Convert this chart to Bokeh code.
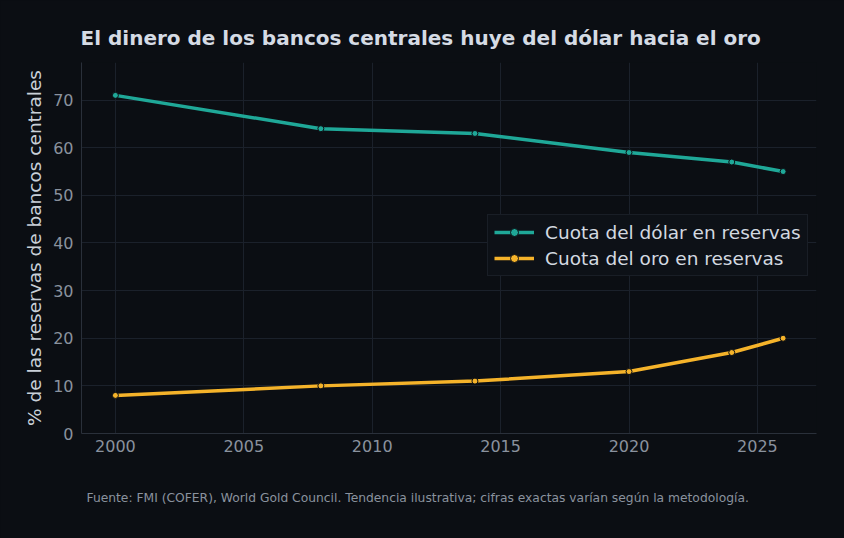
from bokeh.plotting import figure
from bokeh.models import Legend, LegendItem, Title, FixedTicker, Range1d
from bokeh.embed import file_html
from bokeh.resources import INLINE

years = [2000, 2008, 2014, 2020, 2024, 2026]
dollar_share = [71, 64, 63, 59, 57, 55]
gold_share = [8, 10, 11, 13, 17, 20]
x_ticks = [2000, 2005, 2010, 2015, 2020, 2025]
y_ticks = [0, 10, 20, 30, 40, 50, 60, 70]

BG = "#0b0e13"
TEAL = "#1fa898"
GOLD = "#f5b32a"
FONT = "DejaVu Sans"

p = figure(width=844, height=538, output_backend="svg", toolbar_location=None,
           x_range=Range1d(1998.68, 2027.3), y_range=Range1d(0, 77.9),
           background_fill_color=None, border_fill_color=BG,
           outline_line_color=None,
           min_border_left=81, min_border_right=28, min_border_top=62, min_border_bottom=103)
p.outline_line_alpha = 0
p.outline_line_width = 0

t = Title(text="El dinero de los bancos centrales huye del dólar hacia el oro",
          align="left", text_color="#d5dbe4", text_font=FONT, text_font_size="20px",
          text_font_style="bold", offset=-1, standoff=25)
p.add_layout(t, "above")

foot = Title(text="Fuente: FMI (COFER), World Gold Council. Tendencia ilustrativa; cifras exactas varían según la metodología.",
             align="left", text_color="#8a929e", text_font=FONT, text_font_size="12.3px",
             text_font_style="normal", offset=5, standoff=68)
p.add_layout(foot, "below")

for ax in (p.xaxis, p.yaxis):
    ax.axis_line_color = "#2a303a"
    ax.major_tick_line_color = None
    ax.minor_tick_line_color = None
    ax.major_label_text_color = "#8a929e"
    ax.major_label_text_font = FONT
    ax.major_label_text_font_size = "16px"
    ax.major_tick_out = 0
    ax.major_tick_in = 0
    ax.major_label_standoff = 8
p.xaxis.major_label_standoff = 6
p.xaxis.ticker = FixedTicker(ticks=x_ticks)
p.yaxis.ticker = FixedTicker(ticks=y_ticks)
p.yaxis.axis_label = "% de las reservas de bancos centrales"
p.yaxis.axis_label_text_color = "#c9d0d8"
p.yaxis.axis_label_text_font = FONT
p.yaxis.axis_label_text_font_size = "18.5px"
p.yaxis.axis_label_text_font_style = "normal"
p.yaxis.axis_label_standoff = 5

p.xgrid.ticker = FixedTicker(ticks=x_ticks)
p.ygrid.ticker = FixedTicker(ticks=y_ticks)
p.grid.grid_line_color = "#1b212b"
p.grid.grid_line_width = 1

l1 = p.line(years, dollar_share, line_color=TEAL, line_width=3.5)
m1 = p.scatter(years, dollar_share, size=6, fill_color=TEAL, line_color=BG, line_width=1)
l2 = p.line(years, gold_share, line_color=GOLD, line_width=3.5)
m2 = p.scatter(years, gold_share, size=6, fill_color=GOLD, line_color=BG, line_width=1)

legend = Legend(items=[LegendItem(label="Cuota del dólar en reservas", renderers=[l1, m1]),
                       LegendItem(label="Cuota del oro en reservas", renderers=[l2, m2])],
                location=(406, 157))
legend.background_fill_color = "#0d1117"
legend.background_fill_alpha = 1
legend.border_line_color = "#262c36"
legend.label_text_color = "#d3d9e0"
legend.label_text_font = FONT
legend.label_text_font_size = "18.5px"
legend.glyph_width = 40
legend.label_standoff = 11
legend.label_height = 22
legend.spacing = 4
legend.padding = 6
legend.margin = 0
p.add_layout(legend, "center")

html = file_html(p, INLINE)
style = "<style>html,body{margin:0;padding:0;background:%s;overflow:hidden;}</style>" % BG
html = html.replace("</head>", style + "</head>", 1)
open("out.html", "w").write(html)
